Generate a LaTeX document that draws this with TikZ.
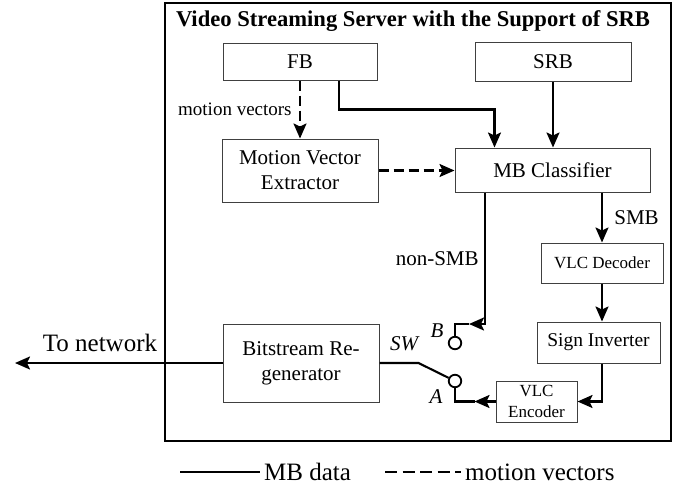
\documentclass[tikz,border=0pt]{standalone}
\usepackage{fontspec}
\setmainfont{Liberation Serif}
\usetikzlibrary{arrows.meta,positioning}
\tikzset{
    %Define standard arrow tip
    >={Stealth[length=15pt,width=13pt,inset=3pt]},
    %Define style for boxes
    block/.style={
           rectangle,
           draw=black!75,
           line width=1pt,
           font=\fontsize{21}{25}\selectfont,
           align=center,
           inner sep=0pt},
    %Define style for the small boxes
    smallblock/.style={
           block,
           font=\fontsize{17}{21}\selectfont},
    % Define arrow style
    arrow/.style={
           ->,
           line width=2.1pt},
    wire/.style={line width=2.1pt},
    dashwire/.style={dash pattern=on 10pt off 5pt},
    % switch contacts
    port/.style={
           circle,
           draw,
           line width=1.8pt,
           minimum size=12.5pt,
           inner sep=0pt},
    lbl/.style={font=\fontsize{21}{25}\selectfont},
    legend/.style={font=\fontsize{25}{28}\selectfont}
}

\begin{document}
\begin{tikzpicture}[x=1pt, y=-1pt]
    \useasboundingbox (0,0) rectangle (688,493);
    \draw[line width=2.3pt] (165,3) rectangle (671,441);
    \node [font=\bfseries\fontsize{22.6}{25}\selectfont] (title) at (413,21) {Video Streaming Server with the Support of SRB};

    \node [block, minimum width=154pt, minimum height=37pt] (FB) at (300,61.5) {FB};
    \node [block, minimum width=156pt, minimum height=39pt] (SRB) at (553,61.5) {SRB};
    \node [block, minimum width=156pt, minimum height=63pt] (MVE) at (300,170.5) {Motion Vector\\Extractor};
    \node [block, minimum width=195pt, minimum height=44pt] (MBC) at (552.5,170) {MB Classifier};
    \node [smallblock, minimum width=122pt, minimum height=40pt] (VLCD) at (602,263) {VLC Decoder};
    \node [block, font=\fontsize{19.5}{22}\selectfont, minimum width=123pt, minimum height=41pt] (SI) at (598.5,342.5) {Sign Inverter};
    \node [smallblock, minimum width=81pt, minimum height=41pt] (VLCE) at (536.5,401.5) {VLC\\Encoder};
    \node [block, minimum width=156pt, minimum height=78pt] (BR) at (301,363) {Bitstream Re-\\generator};
    \node [port] (swB) at (455,343) {};
    \node [port] (swA) at (455,381) {};
    \node [lbl] (SW) at (405,344) {\textit{SW}};
    \node [lbl] (labB) at (437,331) {\textit{B}};
    \node [lbl] (labA) at (436,397) {\textit{A}};
    \node [legend] (netlabel) at (100,343) {To network};

    \coordinate (kB) at (469,324);
    \coordinate (kA) at ([xshift=-21pt]VLCE.west);
    \coordinate (kSW) at ([xshift=39pt]BR.east);
    \coordinate (net) at (15,363);

	\path (FB) edge[arrow, dashwire] node[lbl, font=\fontsize{19}{22}\selectfont, left, xshift=-4pt] {motion vectors} (MVE);
	\draw[arrow] ([xshift=39pt]FB.south) -- ++(0,29) -| ([xshift=-58pt]MBC.north);
	\path (SRB) edge[arrow] (SRB |- MBC.north);
	\path (MVE) edge[arrow, dashwire] (MVE -| MBC.west);
	\draw[arrow] ([xshift=-67.5pt]MBC.south) |- node[lbl, pos=0.25, left, xshift=-2pt] {non-SMB} (kB);
	\draw[wire] (kB) -| (swB);
	\path (MBC.south -| VLCD.north) edge[arrow] node[lbl, right, xshift=8pt] {SMB} (VLCD.north);
	\path (VLCD.south) edge[arrow] (VLCD.south |- SI.north);
	\draw[arrow] (VLCD.south |- SI.south) |- (VLCE.east);
	\draw[arrow] (VLCE.west) -- (kA);
	\draw[wire] (kA) -| (swA);
	\draw[wire] (BR.east) -- (kSW) -- (swA);
	\draw[arrow] (BR.west) -- (net);

    % legend
    \coordinate (legA) at (180,472);
    \coordinate (legB) at (260,472);
    \coordinate (legC) at (385,472);
    \coordinate (legD) at (461,472);
	\draw[line width=1.7pt] (legA) -- (legB) node[legend, right] (legMB) {MB data};
	\draw[line width=1.7pt, dash pattern=on 12pt off 5.5pt] (legC) -- (legD) node[legend, right] (legMV) {motion vectors};
\end{tikzpicture}
\end{document}
